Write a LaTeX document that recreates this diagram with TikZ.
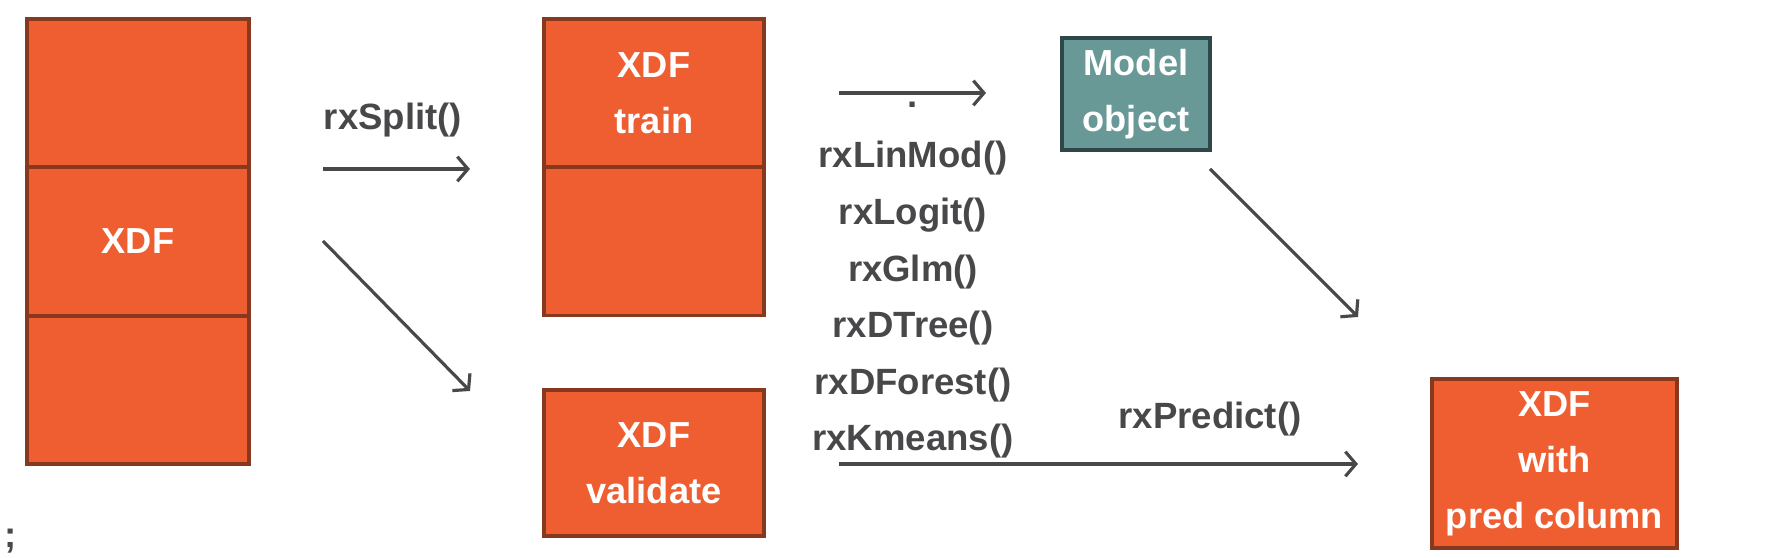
\documentclass[tikz,border=0pt]{standalone}
\usepackage{fontspec}
\setmainfont{Liberation Sans}
\usepackage{tikz}
\usetikzlibrary{arrows.meta}
\definecolor{xorange}{RGB}{239,94,49}
\definecolor{xbrown}{RGB}{135,56,30}
\definecolor{mteal}{RGB}{104,153,150}
\definecolor{mdark}{RGB}{45,72,70}
\definecolor{tgray}{RGB}{72,72,74}
\tikzstyle{blk}=[draw=xbrown,fill=xorange,line width=1pt,text=white,align=center,inner sep=0,font=\fontsize{10.3}{15.9}\selectfont\bfseries]
\tikzstyle{mdl}=[blk,draw=mdark,fill=mteal]
\tikzstyle{lbl}=[text=tgray,align=center,inner sep=0,font=\fontsize{10.4}{16.1}\selectfont\bfseries]
\tikzstyle{arr}=[draw=tgray,line width=0.9pt,-{Straight Barb[length=3pt,width=7pt]}]

\begin{document}
\begin{tikzpicture}
                        \useasboundingbox (0,0) rectangle (17.86,5.58);

                        \node[blk,minimum width=2.22cm,minimum height=1.48cm] (x1) at (1.38,4.65) {};
                        \node[blk,minimum width=2.22cm,minimum height=1.48cm] (x2) at (1.38,3.165) {XDF};
                        \node[blk,minimum width=2.22cm,minimum height=1.48cm] (x3) at (1.38,1.68) {};

                        \node[blk,minimum width=2.20cm,minimum height=1.48cm] (tr) at (6.54,4.65) {XDF\\train};
                        \node[blk,minimum width=2.20cm,minimum height=1.48cm] (tb) at (6.54,3.165) {};
                        \node[blk,minimum width=2.20cm,minimum height=1.46cm] (va) at (6.54,0.95) {XDF\\validate};

                        \node[mdl,minimum width=1.48cm,minimum height=1.12cm] (mo) at (11.36,4.64) {Model\\object};
                        \node[blk,minimum width=2.45cm,minimum height=1.69cm] (pr) at (15.545,0.945) {XDF\\with\\pred column};

                        \node[lbl] (sp) at (3.93,4.38) {rxSplit()};
                        \node[lbl,anchor=base] (dt) at (9.13,4.50) {.};
                        \node[lbl] (fn) at (9.13,2.58) {rxLinMod()\\rxLogit()\\rxGlm()\\rxDTree()\\rxDForest()\\rxKmeans()};
                        \node[lbl] (pd) at (12.10,1.39) {rxPredict()};
                        \node[lbl] (sc) at (0.11,0.17) {;};

                        \coordinate (s1) at (3.23,3.89);
                        \coordinate (s2) at (4.70,3.89);
                        \coordinate (d1) at (3.23,3.17);
                        \coordinate (d2) at (4.70,1.67);
                        \coordinate (t1) at (8.39,4.65);
                        \coordinate (t2) at (9.86,4.65);
                        \coordinate (m1) at (12.10,3.89);
                        \coordinate (m2) at (13.58,2.41);
                        \coordinate (p1) at (8.39,0.94);
                        \coordinate (p2) at (13.58,0.94);

                        \draw[arr] (s1) -- (s2);
                        \draw[arr] (d1) -- (d2);
                        \draw[arr] (t1) -- (t2);
                        \draw[arr] (m1) -- (m2);
                        \draw[arr] (p1) -- (p2);

    \end{tikzpicture}
\end{document}
